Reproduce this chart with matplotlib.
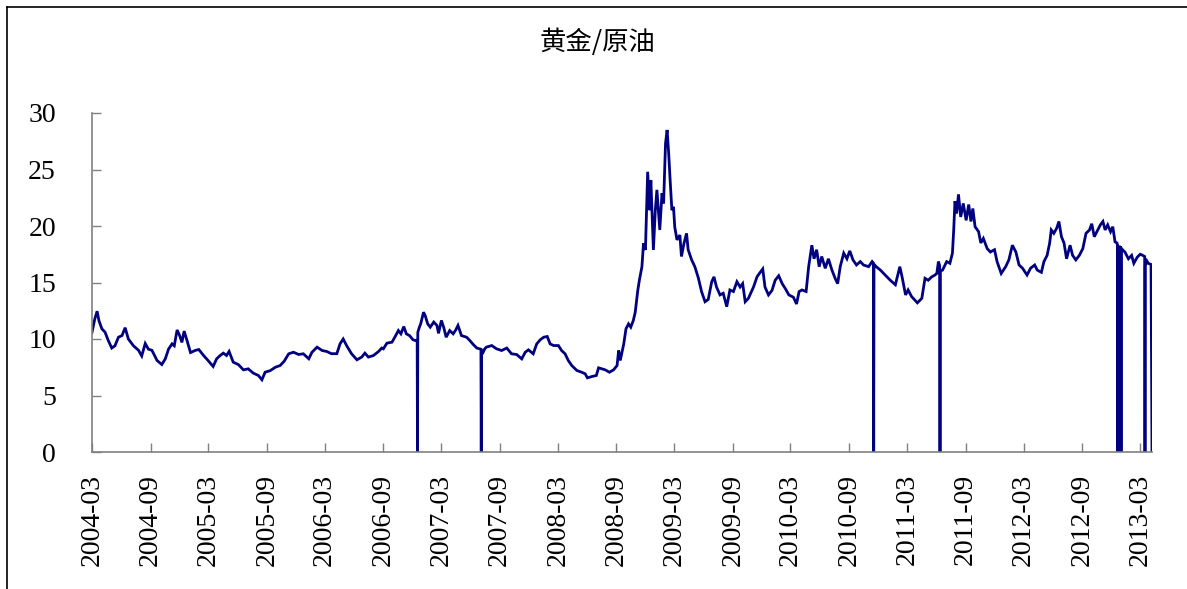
import matplotlib
matplotlib.use('Agg')
import matplotlib.pyplot as plt
import pandas as pd
from matplotlib.lines import Line2D

title = "黄金/原油"
ytick_values = [0, 5, 10, 15, 20, 25, 30]
xtick_labels = ["2004-03", "2004-09", "2005-03", "2005-09", "2006-03", "2006-09",
                "2007-03", "2007-09", "2008-03", "2008-09", "2009-03", "2009-09",
                "2010-03", "2010-09", "2011-03", "2011-09", "2012-03", "2012-09",
                "2013-03"]

dates = [
    "2004-03-01", "2004-03-10", "2004-03-17", "2004-03-23", "2004-04-01", "2004-04-11",
    "2004-04-21", "2004-05-02", "2004-05-12", "2004-05-23", "2004-06-03", "2004-06-13",
    "2004-06-23", "2004-07-09", "2004-07-25", "2004-08-04", "2004-08-15", "2004-08-25",
    "2004-09-05", "2004-09-21", "2004-10-06", "2004-10-17", "2004-10-27", "2004-11-07",
    "2004-11-14", "2004-11-23", "2004-12-01", "2004-12-08", "2004-12-15", "2004-12-24",
    "2005-01-04", "2005-01-20", "2005-01-30", "2005-02-14", "2005-02-28", "2005-03-16",
    "2005-03-27", "2005-04-07", "2005-04-17", "2005-04-27", "2005-05-05", "2005-05-18",
    "2005-06-03", "2005-06-19", "2005-07-04", "2005-07-20", "2005-08-05", "2005-08-16",
    "2005-08-26", "2005-09-11", "2005-09-27", "2005-10-12", "2005-10-25", "2005-11-08",
    "2005-11-23", "2005-12-09", "2005-12-24", "2006-01-10", "2006-01-20", "2006-02-05",
    "2006-02-21", "2006-03-07", "2006-03-22", "2006-04-08", "2006-04-18", "2006-04-28",
    "2006-05-09", "2006-05-24", "2006-06-10", "2006-06-25", "2006-07-05", "2006-07-16",
    "2006-08-01", "2006-08-17", "2006-08-27", "2006-09-01", "2006-09-12", "2006-09-28",
    "2006-10-08", "2006-10-18", "2006-10-26", "2006-11-04", "2006-11-12", "2006-11-22",
    "2006-12-03", "2006-12-10", "2006-12-16", "2006-12-17", "2006-12-18", "2006-12-23",
    "2006-12-27", "2007-01-05", "2007-01-10", "2007-01-18", "2007-01-26", "2007-02-06",
    "2007-02-16", "2007-02-21", "2007-03-02", "2007-03-09", "2007-03-17", "2007-03-28",
    "2007-04-08", "2007-04-16", "2007-04-23", "2007-05-04", "2007-05-20", "2007-05-30",
    "2007-06-10", "2007-06-21", "2007-07-01", "2007-07-04", "2007-07-05", "2007-07-06",
    "2007-07-11", "2007-07-16", "2007-07-21", "2007-08-07", "2007-08-22", "2007-09-07",
    "2007-09-23", "2007-10-08", "2007-10-24", "2007-11-09", "2007-11-20", "2007-11-30",
    "2007-12-15", "2007-12-26", "2008-01-06", "2008-01-17", "2008-01-28", "2008-02-06",
    "2008-02-17", "2008-03-03", "2008-03-13", "2008-03-24", "2008-04-03", "2008-04-14",
    "2008-04-30", "2008-05-15", "2008-05-26", "2008-06-02", "2008-06-16", "2008-06-30",
    "2008-07-07", "2008-07-17", "2008-07-28", "2008-08-10", "2008-08-23", "2008-09-03",
    "2008-09-08", "2008-09-13", "2008-09-24", "2008-10-01", "2008-10-09", "2008-10-16",
    "2008-10-24", "2008-10-30", "2008-11-07", "2008-11-12", "2008-11-20", "2008-11-25",
    "2008-12-01", "2008-12-08", "2008-12-14", "2008-12-18", "2008-12-26", "2009-01-01",
    "2009-01-06", "2009-01-15", "2009-01-22", "2009-01-27", "2009-02-02", "2009-02-07",
    "2009-02-12", "2009-02-17", "2009-02-22", "2009-02-27", "2009-03-03", "2009-03-10",
    "2009-03-19", "2009-03-24", "2009-04-01", "2009-04-09", "2009-04-14", "2009-04-25",
    "2009-05-05", "2009-05-16", "2009-05-26", "2009-06-06", "2009-06-16", "2009-06-27",
    "2009-07-04", "2009-07-12", "2009-07-23", "2009-08-02", "2009-08-13", "2009-08-23",
    "2009-09-03", "2009-09-14", "2009-09-24", "2009-10-02", "2009-10-10", "2009-10-20",
    "2009-11-05", "2009-11-16", "2009-11-26", "2009-12-04", "2009-12-11", "2009-12-22",
    "2010-01-02", "2010-01-12", "2010-01-23", "2010-02-03", "2010-02-13", "2010-02-24",
    "2010-03-10", "2010-03-20", "2010-03-28", "2010-04-06", "2010-04-19", "2010-04-27",
    "2010-05-07", "2010-05-14", "2010-05-22", "2010-05-30", "2010-06-07", "2010-06-18",
    "2010-06-28", "2010-07-09", "2010-07-19", "2010-07-27", "2010-08-04", "2010-08-15",
    "2010-08-25", "2010-09-03", "2010-09-13", "2010-09-24", "2010-10-06", "2010-10-16",
    "2010-11-01", "2010-11-12", "2010-11-16", "2010-11-17", "2010-11-18", "2010-11-25",
    "2010-12-08", "2010-12-23", "2011-01-08", "2011-01-24", "2011-02-07", "2011-02-14",
    "2011-02-25", "2011-03-05", "2011-03-16", "2011-03-26", "2011-04-03", "2011-04-17",
    "2011-04-27", "2011-05-07", "2011-05-18", "2011-05-28", "2011-06-03", "2011-06-08",
    "2011-06-12", "2011-06-13", "2011-06-14", "2011-06-21", "2011-07-04", "2011-07-14",
    "2011-07-22", "2011-07-26", "2011-07-30", "2011-08-04", "2011-08-10", "2011-08-17",
    "2011-08-25", "2011-09-03", "2011-09-11", "2011-09-18", "2011-09-24", "2011-10-01",
    "2011-10-12", "2011-10-19", "2011-10-27", "2011-11-08", "2011-11-18", "2011-12-01",
    "2011-12-09", "2011-12-22", "2012-01-05", "2012-01-15", "2012-01-26", "2012-02-06",
    "2012-02-16", "2012-02-27", "2012-03-12", "2012-03-23", "2012-04-05", "2012-04-13",
    "2012-04-26", "2012-05-04", "2012-05-14", "2012-05-22", "2012-05-27", "2012-06-04",
    "2012-06-13", "2012-06-20", "2012-06-28", "2012-07-06", "2012-07-14", "2012-07-25",
    "2012-08-02", "2012-08-12", "2012-08-23", "2012-09-03", "2012-09-13", "2012-09-24",
    "2012-10-01", "2012-10-09", "2012-10-20", "2012-10-28", "2012-11-05", "2012-11-12",
    "2012-11-20", "2012-11-29", "2012-12-06", "2012-12-13", "2012-12-19", "2012-12-21",
    "2012-12-22", "2012-12-23", "2012-12-31", "2013-01-01", "2013-01-02", "2013-01-13",
    "2013-01-24", "2013-02-03", "2013-02-10", "2013-02-21", "2013-03-02", "2013-03-10",
    "2013-03-16", "2013-03-17", "2013-03-18", "2013-03-23", "2013-03-27", "2013-04-05",
    "2013-04-08",
]

values = [
    10.6, 11.8, 12.46, 11.6, 10.9, 10.6,
    9.87, 9.2, 9.4, 10.16, 10.3, 11.0,
    10.0, 9.4, 9.0, 8.5, 9.6, 9.1,
    9.0, 8.1, 7.74, 8.25, 9.1, 9.57,
    9.4, 10.8, 10.3, 9.7, 10.7, 9.87,
    8.8, 9.0, 9.07, 8.54, 8.1, 7.57,
    8.25, 8.54, 8.75, 8.54, 8.9, 7.95,
    7.74, 7.27, 7.36, 6.98, 6.77, 6.39,
    7.06, 7.2, 7.5, 7.65, 8.04, 8.69,
    8.83, 8.63, 8.69, 8.25, 8.83, 9.28,
    8.98, 8.9, 8.7, 8.7, 9.57, 10.0,
    9.4, 8.7, 8.16, 8.4, 8.75, 8.4,
    8.54, 8.9, 9.2, 9.13, 9.63, 9.72,
    10.22, 10.75, 10.46, 11.1, 10.46, 10.3,
    9.93, 9.87, 9.9, 0.0, 10.6, 11.05,
    11.34, 12.37, 12.08, 11.34, 11.05, 11.5,
    11.2, 10.5, 11.64, 11.05, 10.16, 10.75,
    10.46, 10.8, 11.2, 10.3, 10.16, 9.87,
    9.51, 9.2, 9.13, 9.1, 0.0, 9.0,
    8.83, 9.13, 9.28, 9.42, 9.13, 8.98,
    9.2, 8.69, 8.63, 8.24, 8.83, 9.04,
    8.69, 9.57, 9.93, 10.16, 10.22, 9.57,
    9.42, 9.42, 8.98, 8.69, 8.1, 7.65,
    7.21, 7.06, 6.92, 6.56, 6.68, 6.77,
    7.45, 7.36, 7.27, 7.06, 7.27, 7.65,
    8.98, 8.1, 9.57, 10.9, 11.34, 11.05,
    11.64, 12.37, 14.3, 15.2, 16.4, 18.47,
    17.88, 24.8, 21.4, 24.07, 17.88, 21.4,
    23.2, 19.65, 22.9, 22.0, 27.3, 28.5,
    26.4, 23.8, 21.4, 21.7, 19.9, 18.77,
    19.2, 17.3, 18.47, 19.35, 17.9, 17.0,
    16.4, 15.4, 14.2, 13.3, 13.5, 15.07,
    15.5, 14.6, 13.9, 14.05, 12.86, 14.34,
    14.2, 15.07, 14.6, 14.9, 13.3, 13.6,
    14.6, 15.5, 15.9, 16.2, 14.6, 13.9,
    14.3, 15.2, 15.6, 14.9, 14.45, 13.9,
    13.7, 13.1, 14.2, 14.34, 14.2, 16.4,
    18.3, 17.1, 17.9, 16.4, 17.3, 16.26,
    17.1, 16.1, 15.37, 14.9, 16.4, 17.6,
    17.1, 17.8, 17.0, 16.55, 16.85, 16.55,
    16.4, 16.85, 16.7, 0.0, 16.6, 16.4,
    16.1, 15.66, 15.2, 14.8, 16.4, 15.5,
    13.9, 14.34, 13.75, 13.45, 13.2, 13.6,
    15.37, 15.2, 15.5, 15.66, 15.8, 16.85,
    16.5, 0.0, 16.0, 16.1, 16.85, 16.7,
    17.6, 19.65, 22.2, 21.1, 22.8, 20.8,
    22.0, 20.5, 21.9, 20.4, 21.55, 19.94,
    19.5, 18.5, 18.9, 18.0, 17.7, 17.9,
    16.85, 15.8, 16.4, 17.0, 18.3, 17.7,
    16.55, 16.26, 15.66, 16.26, 16.55, 16.1,
    15.9, 16.85, 17.4, 18.5, 19.65, 19.35,
    19.8, 20.4, 19.05, 18.5, 17.1, 18.3,
    17.4, 17.0, 17.4, 18.0, 19.35, 19.65,
    20.2, 19.05, 19.65, 20.1, 20.4, 19.65,
    20.1, 19.5, 19.94, 18.6, 18.5, 18.3,
    0.0, 18.2, 18.1, 0.0, 18.0, 17.7,
    17.1, 17.4, 16.7, 17.25, 17.5, 17.4,
    17.3, 0.0, 16.5, 16.9, 16.7, 16.6,
    0.0,
]

W, H = 1187, 589
fig = plt.figure(figsize=(W / 100, H / 100), dpi=100)
ax = fig.add_axes([92 / W, (H - 452) / H, (1152 - 92) / W, 339 / H])

x = pd.to_datetime(dates)
ax.plot(x, values, color='#000080', lw=2.0, solid_joinstyle='miter')

ax.set_xlim(pd.Timestamp("2004-03-01"), pd.Timestamp("2013-04-08"))
ax.set_ylim(0, 30)

xticks = pd.to_datetime([s + "-01" for s in xtick_labels])
ax.set_xticks(xticks)
ax.set_xticklabels(xtick_labels, rotation=90, fontfamily='Liberation Serif', fontsize=20)
ax.set_yticks(ytick_values)
ax.set_yticklabels([str(v) for v in ytick_values], fontfamily='Liberation Serif', fontsize=20)

for s in ['top', 'right']:
    ax.spines[s].set_visible(False)
for s in ['left', 'bottom']:
    ax.spines[s].set_color('#808080')
    ax.spines[s].set_linewidth(1.2)

ax.tick_params(axis='both', direction='in', length=6.5, width=1.0, color='#808080')
ax.tick_params(axis='y', pad=26)
ax.tick_params(axis='x', pad=16)

fig.text(598 / W, 1 - 42 / H, title, ha='center', va='center', fontsize=19,
         family=['Noto Sans CJK SC', 'DejaVu Sans'])

fig.add_artist(Line2D([7 / W, 7 / W], [0, 1 - 7 / H], color='black', lw=1.2,
                      transform=fig.transFigure))
fig.add_artist(Line2D([7 / W, 1], [1 - 7 / H, 1 - 7 / H], color='black', lw=1.2,
                      transform=fig.transFigure))

fig.savefig("out.png", dpi=100)
